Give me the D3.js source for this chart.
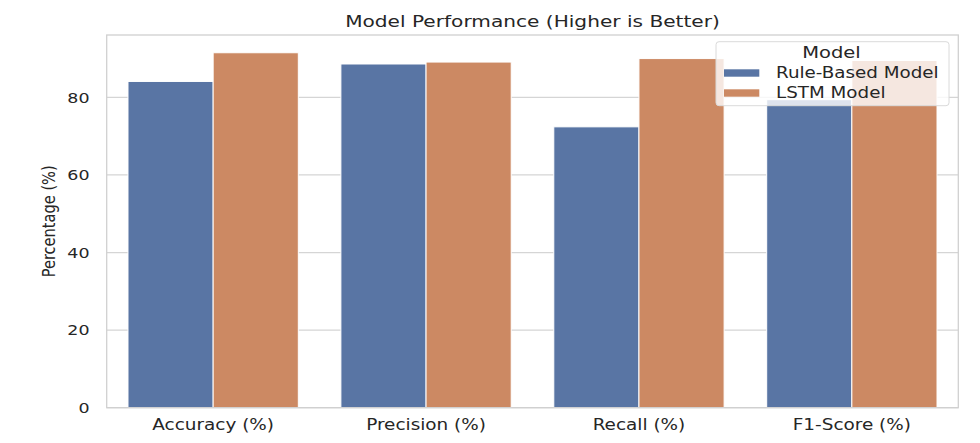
<!DOCTYPE html>
<html><head><meta charset="utf-8">
<script src="https://cdn.jsdelivr.net/npm/d3@7"></script>
<style>body{margin:0;background:#fff}svg{display:block}text{font-family:"DejaVu Sans",sans-serif;fill:#262626}</style>
</head><body>
<svg id="c" width="980" height="443"></svg>
<script>
const categories = ["Accuracy (%)", "Precision (%)", "Recall (%)", "F1-Score (%)"];
const series = ["Rule-Based Model", "LSTM Model"];
const ruleBased = [84.1, 88.6, 72.4, 79.4];
const lstm = [91.5, 89.1, 90.0, 89.5];
const yTicks = [0, 20, 40, 60, 80];
const colors = ["#5975a4", "#cc8963"];
const title = "Model Performance (Higher is Better)";
const yLabel = "Percentage (%)";
const legendTitle = "Model";

const values = [ruleBased, lstm];
const data = [];
categories.forEach((c, i) => series.forEach((s, j) => data.push({c, s, j, v: values[j][i]})));

const SX = 1.22;
const svg = d3.select("#c");
const L = 106.7, R = 958.3, T = 35, B = 407.7;
const maxV = d3.max(data, d => d.v);
const y = d3.scaleLinear().domain([0, maxV * 1.05]).range([B, T]);
const x = d3.scaleBand().domain(categories).range([L, R]).paddingInner(0).paddingOuter(0);
const xs = d3.scaleBand().domain(series).range([0, x.bandwidth()]).paddingInner(0).paddingOuter(0.25);

function stext(parent, str, px, py, size, anchor) {
  const g = parent.append("g").attr("transform", `translate(${px},${py}) scale(${SX},1)`);
  return g.append("text").attr("text-anchor", anchor).attr("font-size", size).text(str);
}

// grid
svg.append("g").selectAll("line").data(yTicks).join("line")
  .attr("x1", L).attr("x2", R).attr("y1", d => y(d)).attr("y2", d => y(d))
  .attr("stroke", "#d5d5d5").attr("stroke-width", 1.2);

// bars
svg.append("g").selectAll("rect").data(data).join("rect")
  .attr("x", d => x(d.c) + xs(d.s)).attr("width", xs.bandwidth())
  .attr("y", d => y(d.v)).attr("height", d => y(0) - y(d.v))
  .attr("fill", d => colors[d.j]).attr("stroke", "#fff").attr("stroke-width", 1);

// spines
svg.append("rect").attr("x", L).attr("y", T).attr("width", R - L).attr("height", B - T)
  .attr("fill", "none").attr("stroke", "#d0d0d0").attr("stroke-width", 1.3);

// y tick labels
yTicks.forEach(t => stext(svg, String(t), 89.5, y(t) + 5.2, 14.3, "end"));
// x tick labels
categories.forEach(c => stext(svg, c, x(c) + x.bandwidth() / 2, 429.5, 15.1, "middle"));

// title
stext(svg, title, (L + R) / 2, 26.5, 16.5, "middle");
// y label
svg.append("text").attr("transform", `translate(55,${(T + B) / 2}) rotate(-90)`)
  .attr("text-anchor", "middle").style("font-size", "18px")
  .attr("textLength", 112).attr("lengthAdjust", "spacingAndGlyphs").text(yLabel);

// legend
const lg = svg.append("g");
lg.append("rect").attr("x", 716).attr("y", 41.7).attr("width", 233).attr("height", 64)
  .attr("rx", 3).attr("fill", "#fff").attr("fill-opacity", 0.8).attr("stroke", "#dadada").attr("stroke-width", 1);
stext(lg, legendTitle, 831.5, 57.5, 16, "middle");
series.forEach((s, j) => {
  lg.append("rect").attr("x", 724).attr("y", 69.3 + j * 20).attr("width", 35.3).attr("height", 7.4)
    .attr("fill", colors[j]);
  stext(lg, s, 776, 78.3 + j * 19.4, 15, "start");
});
</script>
</body></html>
